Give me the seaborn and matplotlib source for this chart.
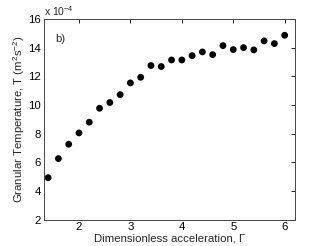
import numpy as np
import pandas as pd
import matplotlib
matplotlib.use("Agg")
import matplotlib.pyplot as plt
from matplotlib.ticker import FuncFormatter
import seaborn as sns

# dimensionless acceleration and granular temperature (x 1e-4 m^2 s^-2)
gamma = [1.4, 1.6, 1.8, 2.0, 2.2, 2.4, 2.6, 2.8, 3.0, 3.2, 3.4, 3.6,
         3.8, 4.0, 4.2, 4.4, 4.6, 4.8, 5.0, 5.2, 5.4, 5.6, 5.8, 6.0]
temp_e4 = [4.93, 6.26, 7.26, 8.05, 8.8, 9.77, 10.17, 10.72, 11.54, 11.93, 12.75, 12.68,
           13.14, 13.14, 13.44, 13.70, 13.51, 14.14, 13.86, 14.0, 13.84, 14.47, 14.28, 14.86]

df = pd.DataFrame({"gamma": gamma, "T": np.array(temp_e4) * 1e-4})

sns.set_style("white")
plt.rcParams["font.family"] = ["Liberation Sans", "DejaVu Sans"]
plt.rcParams["mathtext.fontset"] = "custom"
plt.rcParams["mathtext.rm"] = "Liberation Sans"
plt.rcParams["mathtext.it"] = "Liberation Sans"

fig = plt.figure(figsize=(3.27, 2.46), dpi=100)
ax = fig.add_axes([0.1346, 0.107, 0.7674, 0.816])

sns.scatterplot(data=df, x="gamma", y="T", ax=ax, s=24, color="black",
                edgecolor="none", linewidth=0, legend=False)

ax.set_xlim(1.32, 6.2)
ax.set_ylim(2e-4, 16e-4)
ax.set_xticks([2, 3, 4, 5, 6])
ax.set_yticks(np.arange(2, 17, 2) * 1e-4)
ax.yaxis.set_major_formatter(FuncFormatter(lambda v, _: f"{v * 1e4:.0f}"))

ax.tick_params(direction="in", length=3, width=0.6, top=True, right=True,
               labelsize=8.2, pad=2, colors="black")
for sp in ax.spines.values():
    sp.set_linewidth(0.7)
    sp.set_color("#444444")

ax.set_xlabel("Dimensionless acceleration, Γ", fontsize=8.2, labelpad=0.5)
ax.set_ylabel("Granular Temperature, T (m$^2$s$^{-2}$)", fontsize=8.2, labelpad=1)

ax.text(0.0, 1.005, "x 10$^{-4}$", transform=ax.transAxes, fontsize=7.5,
        ha="left", va="bottom")
ax.text(0.045, 0.9, "b)", transform=ax.transAxes, fontsize=8.2,
        ha="left", va="center")

fig.savefig("out.png", dpi=100)
